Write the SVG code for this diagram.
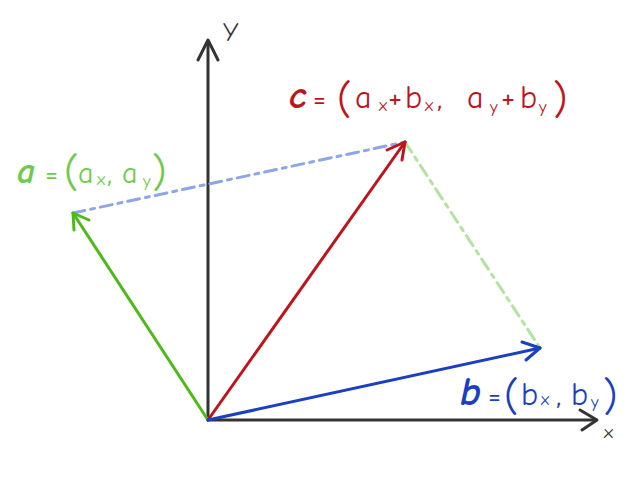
<svg xmlns="http://www.w3.org/2000/svg" width="640" height="480" viewBox="0 0 640 480">
<defs>
<style>
.lbl{font-family:"Comic Neue","Liberation Sans","DejaVu Sans",sans-serif;}
.big{font-weight:bold;font-style:italic;}
.sub{font-size:17px;}
.par{font-size:42px;}
.eq{font-size:28px;}
</style>
</defs>
<rect width="640" height="480" fill="#fff"/>
<g id="axes" stroke="#333" stroke-width="3" fill="none" stroke-linecap="round" stroke-linejoin="round">
<path d="M208,420 L208,42"/>
<path d="M198,60 L208,40 L218,60"/>
<path d="M208,420 L596,420"/>
<path d="M580,410 L597,420 L582,430"/>
</g>
<g id="axis-labels" class="lbl" fill="#333">
<text x="223" y="41" font-size="26">Y</text>
<text x="604" y="438" font-size="19">x</text>
</g>
<g id="connectors" fill="none" stroke-linecap="round" stroke-linejoin="round">
<path d="M73,213 L405,142" stroke="#8fa6e6" stroke-width="3" stroke-dasharray="12,6,4,6"/>
<path d="M405,142 L540,348" stroke="#b3e3a0" stroke-width="3" stroke-dasharray="12,6,4,6"/>
<g id="vec-a" stroke="#4cbb17" stroke-width="3">
<path d="M208,420 L73,213"/>
<path d="M74,230 L73,213 L89,220"/>
</g>
<g id="vec-c" stroke="#c0141c" stroke-width="3">
<path d="M208,420 L405,142"/>
<path d="M387,150 L405,142 L402,160"/>
</g>
<g id="vec-b" stroke="#1a3fbf" stroke-width="3">
<path d="M208,420 L540,348"/>
<path d="M522,342 L540,348 L526,360"/>
</g>
</g>
<g id="label-c" class="lbl" fill="#c0141c" font-size="32">
<text y="108"><tspan class="big" font-size="38" x="289">c</tspan><tspan class="eq" x="313">=</tspan><tspan class="par" x="337" y="113">(</tspan><tspan x="355" y="108">a</tspan><tspan class="sub" x="379" y="111">x</tspan><tspan x="388" y="108">+</tspan><tspan x="405">b</tspan><tspan class="sub" x="425" y="111">x</tspan><tspan x="437" y="108">,</tspan><tspan x="467">a</tspan><tspan class="sub" x="490" y="113">y</tspan><tspan x="501" y="108">+</tspan><tspan x="520">b</tspan><tspan class="sub" x="539" y="113">y</tspan><tspan class="par" x="553" y="113">)</tspan></text>
</g>
<g id="label-a" class="lbl" fill="#6ccb4a" font-size="30">
<text y="183"><tspan class="big" font-size="36" x="17">a</tspan><tspan class="eq" x="45">=</tspan><tspan class="par" x="64" y="186">(</tspan><tspan x="78" y="183">a</tspan><tspan class="sub" x="97" y="185">x</tspan><tspan x="107" y="183">,</tspan><tspan x="122">a</tspan><tspan class="sub" x="143" y="187">y</tspan><tspan class="par" x="152" y="186">)</tspan></text>
</g>
<g id="label-b" class="lbl" fill="#1a3fbf" font-size="32">
<text y="405"><tspan class="big" font-size="40" x="460">b</tspan><tspan class="eq" x="488">=</tspan><tspan class="par" x="504" y="410">(</tspan><tspan x="521" y="405">b</tspan><tspan class="sub" x="541" y="405">x</tspan><tspan x="556" y="405">,</tspan><tspan x="571">b</tspan><tspan class="sub" x="591" y="408">y</tspan><tspan class="par" x="603" y="410">)</tspan></text>
</g>
</svg>
